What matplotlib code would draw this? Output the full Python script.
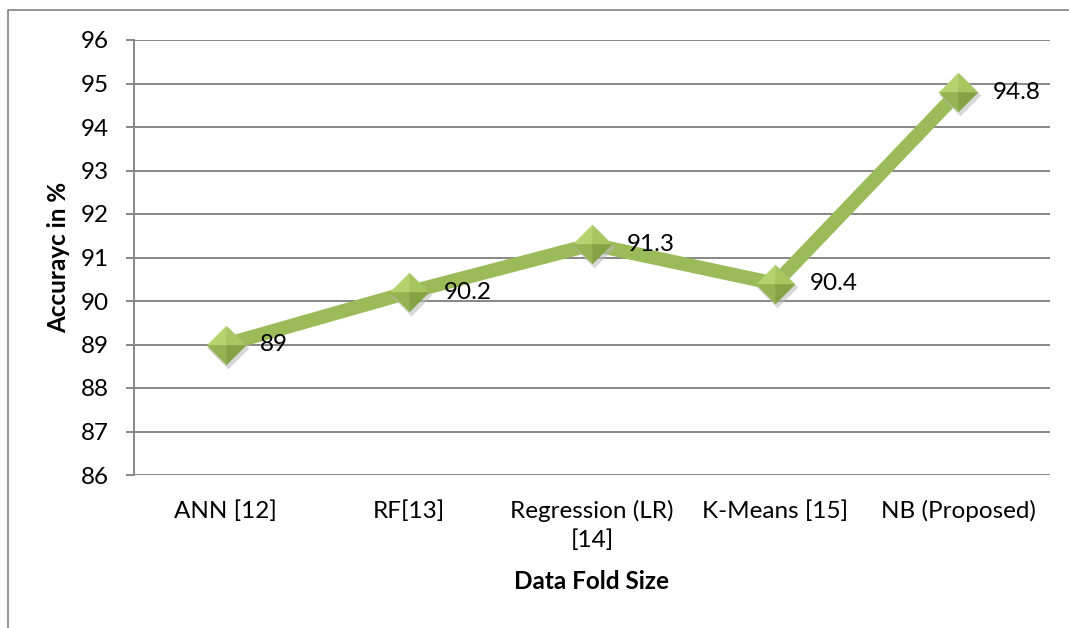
import matplotlib
matplotlib.use("Agg")
import matplotlib.pyplot as plt
from matplotlib.lines import Line2D
from matplotlib.transforms import offset_copy
import numpy as np

categories = ["ANN [12]", "RF[13]", "Regression (LR)\n[14]", "K-Means [15]", "NB (Proposed)"]
accuracy = [89, 90.2, 91.3, 90.4, 94.8]
value_labels = ["89", "90.2", "91.3", "90.4", "94.8"]
y_ticks = [86, 87, 88, 89, 90, 91, 92, 93, 94, 95, 96]

FONT = "Lato"
FS = 17.5
GRID = "#878787"
LINE_GREEN = "#9BBB59"

W, H = 1069, 628
fig = plt.figure(figsize=(W / 100, H / 100), dpi=100)
ax = fig.add_axes([134 / W, 1 - 475 / H, (1050 - 134) / W, (475 - 40) / H])

x = np.arange(len(categories)) + 0.5

# horizontal gridlines
for t in y_ticks:
    ax.axhline(t, color=GRID, lw=1.4, zorder=1)

# series line
ax.plot(x, accuracy, color=LINE_GREEN, lw=10, solid_capstyle="butt", zorder=3)

# faceted diamond markers with a soft drop shadow
ms = 28
tl = [(0, 0), (-1, 0), (0, 1), (0, 0)]
tr = [(0, 0), (0, 1), (1, 0), (0, 0)]
bl = [(0, 0), (-1, 0), (0, -1), (0, 0)]
br = [(0, 0), (1, 0), (0, -1), (0, 0)]
shadow = [(-1, 0), (0, 1), (1, 0), (0, -1), (-1, 0)]
sh_tr = offset_copy(ax.transData, fig=fig, x=2, y=-3, units="dots")
ax.plot(x, accuracy, ls="none", marker=shadow, ms=ms + 2, mfc="#b9b9b9", mec="none",
        alpha=0.55, transform=sh_tr, zorder=4)
for verts, col in [(tl, "#b5d26e"), (tr, "#a6c75f"), (bl, "#93b450"), (br, "#84a344")]:
    ax.plot(x, accuracy, ls="none", marker=verts, ms=ms, mfc=col, mec=col, mew=0.3, zorder=5)

# value labels
for xi, yi, lab in zip(x, accuracy, value_labels):
    ax.annotate(lab, (xi, yi), xytext=(25, 0), textcoords="offset points",
                ha="left", va="center", fontsize=FS, family=FONT, color="black", zorder=6)

ax.set_xlim(0, len(categories))
ax.set_ylim(86, 96)
ax.set_yticks(y_ticks)
ax.set_yticklabels([str(t) for t in y_ticks], fontsize=FS, family=FONT)
ax.set_xticks(x)
ax.set_xticklabels(categories, fontsize=FS, family=FONT, linespacing=1.4)
ax.tick_params(axis="x", length=0, pad=18)
ax.tick_params(axis="y", length=6, width=1.4, color=GRID, pad=12)

for side in ["top", "right", "bottom"]:
    ax.spines[side].set_visible(False)
ax.spines["left"].set_color(GRID)
ax.spines["left"].set_linewidth(1.4)

ax.set_xlabel("Data Fold Size", fontsize=FS, family=FONT, fontweight="bold", labelpad=14)
ax.set_ylabel("Accurayc in %", fontsize=FS, family=FONT, fontweight="bold", labelpad=8)

# outer frame (top and left edges)
fig.add_artist(Line2D([8 / W, 8 / W, 1.0], [0.0, 1 - 10 / H, 1 - 10 / H],
                      transform=fig.transFigure, color="#8c8c8c", lw=1.3))

fig.savefig("out.png", dpi=100)
